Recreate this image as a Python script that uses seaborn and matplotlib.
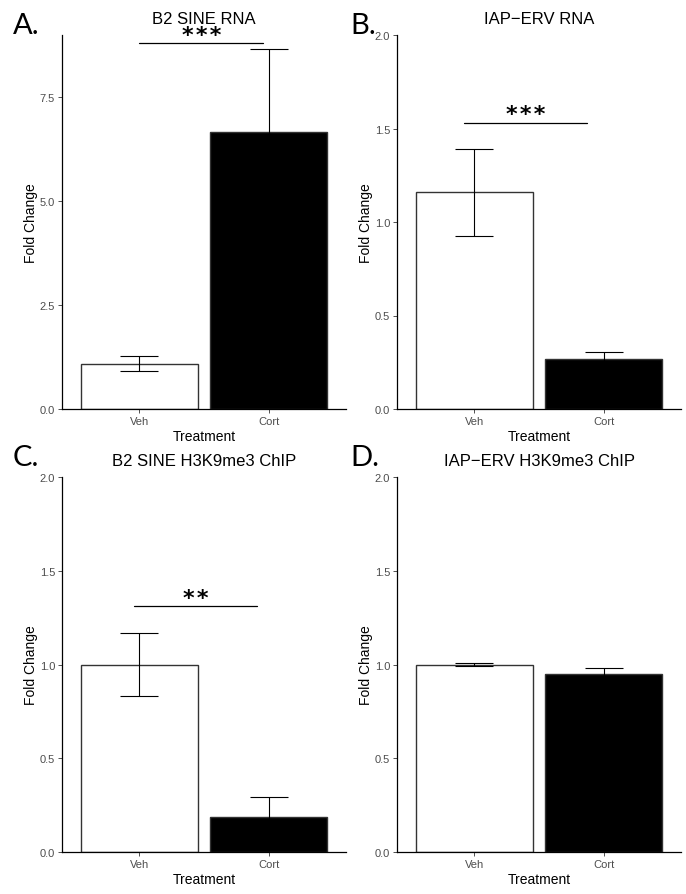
import matplotlib
matplotlib.use("Agg")
from matplotlib import pyplot as plt
import pandas as pd
import seaborn as sns

# data
treatment = ["Veh", "Cort"]
titles = ["B2 SINE RNA", "IAP\u2212ERV RNA", "B2 SINE H3K9me3 ChIP", "IAP\u2212ERV H3K9me3 ChIP"]
letters = ["A.", "B.", "C.", "D."]

mean_a = [1.09, 6.67]
se_a = [0.18, 2.00]
mean_b = [1.16, 0.268]
se_b = [0.233, 0.038]
mean_c = [1.00, 0.187]
se_c = [0.17, 0.107]
mean_d = [1.00, 0.952]
se_d = [0.01, 0.027]

ymax = [9.0, 2.0, 2.0, 2.0]
yticks_a = [0, 2.5, 5.0, 7.5]
yticks_rest = [0, 0.5, 1.0, 1.5, 2.0]

# significance bars: x start, x end, y, label
sig_a = (0.0, 0.96, 8.8, "***")
sig_b = (-0.08, 0.87, 1.53, "***")
sig_c = (-0.04, 0.91, 1.31, "**")
sig_d = None

sns.set_theme(style="ticks")
plt.rcParams['font.family'] = ['Liberation Sans', 'DejaVu Sans']
plt.rcParams['text.color'] = 'black'
plt.rcParams['axes.labelcolor'] = 'black'

W, H = 686, 895
fig = plt.figure(figsize=(W / 100, H / 100), dpi=100)

# axes boxes in pixels: left, top, bottom
boxes = [(62, 36, 410), (397, 36, 410), (62, 478, 853), (397, 478, 853)]
letter_pos = [(13, 34), (350, 34), (13, 466), (350, 466)]
ax_w = 284

panels = [(mean_a, se_a, sig_a), (mean_b, se_b, sig_b), (mean_c, se_c, sig_c), (mean_d, se_d, sig_d)]

for i, (means, ses, sig) in enumerate(panels):
    left, top, bottom = boxes[i]
    ax = fig.add_axes([left / W, 1 - bottom / H, ax_w / W, (bottom - top) / H])
    df = pd.DataFrame({"Treatment": treatment, "Fold Change": means})
    sns.barplot(data=df, x="Treatment", y="Fold Change", hue="Treatment",
                palette=["white", "black"], edgecolor="#333333", linewidth=1.0,
                width=0.9, errorbar=None, legend=False, ax=ax)
    ax.errorbar(range(len(treatment)), means, yerr=ses, fmt="none", ecolor="black",
                elinewidth=0.8, capsize=13.5, capthick=0.8, zorder=5)

    if sig is not None:
        x0, x1, y, lab = sig
        ax.plot([x0, x1], [y, y], color="black", lw=0.9, clip_on=False)
        # hair spaces to spread the stars a little
        ax.annotate("\u200a".join(lab), xy=((x0 + x1) / 2, y), xytext=(0, 1.8),
                    textcoords="offset points", ha="center", va="baseline", fontsize=16,
                    fontweight="bold", family=["DejaVu Sans"], annotation_clip=False)

    ax.set_xlim(-0.6, 1.6)
    ax.set_ylim(0, ymax[i])
    yt = yticks_a if i == 0 else yticks_rest
    ax.set_yticks(yt)
    ax.set_yticklabels([f"{v:.1f}" for v in yt])
    ax.tick_params(axis="both", labelsize=8, labelcolor="#4D4D4D", color="#333333",
                   length=3, width=0.6, pad=2)
    for s in ["top", "right"]:
        ax.spines[s].set_visible(False)
    for s in ["left", "bottom"]:
        ax.spines[s].set_color("black")
        ax.spines[s].set_linewidth(0.9)
    ax.set_xlabel("Treatment", fontsize=10, labelpad=2.5)
    ax.set_ylabel("Fold Change", fontsize=10, labelpad=1.5)
    ax.set_title(titles[i], fontsize=12, pad=9)

    lx, ly = letter_pos[i]
    fig.text(lx / W, 1 - ly / H, letters[i], fontsize=21, family=["Lato", "DejaVu Sans"],
             ha="left", va="baseline")

fig.savefig("out.png", dpi=100)
